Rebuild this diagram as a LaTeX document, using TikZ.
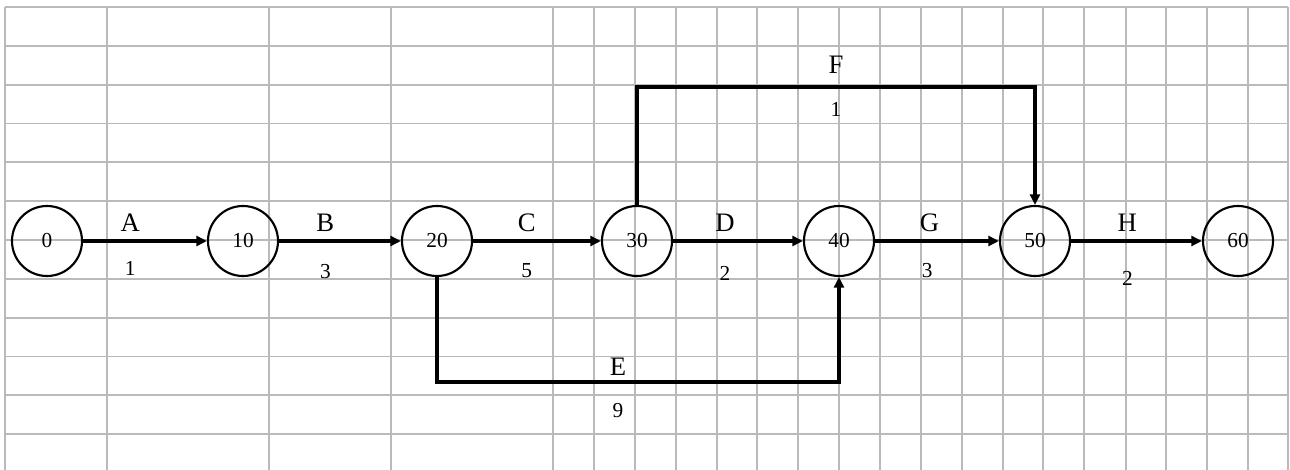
\documentclass[tikz,border=0pt]{standalone}
\usepackage{fontspec}
\setmainfont{Liberation Serif}
\usetikzlibrary{arrows.meta, positioning, calc}

\begin{document}
\begin{tikzpicture}[
    x=0.75pt, y=-0.75pt,
    event/.style={draw, circle, line width=1.6pt, minimum size=52.5pt, inner sep=0pt, font=\fontsize{16}{18}\selectfont},
    act/.style={-{Triangle[length=8pt, width=7.5pt]}, line width=2.4pt},
    lbl/.style={font=\fontsize{20}{22}\selectfont},
    dur/.style={font=\fontsize{16}{18}\selectfont},
    gridline/.style={black!27, line width=1.3pt}
]
\useasboundingbox (0,0) rectangle (1290,470);
\fill[white] (0,0) rectangle (1290,470);
\foreach \k in {0,...,11}
    \draw[gridline] (5,7+38.83*\k) -- (1288,7+38.83*\k);
\foreach \gx in {5,107,269,391,553,594,635,676,717,757,798,839,880,921,962,1003,1043,1084,1126,1166,1207,1248,1288}
    \draw[gridline] (\gx,7) -- (\gx,470);

\node[event] (e0) at (47,241) {0};
\node[event] (e10) at (243,241) {10};
\node[event] (e20) at (437,241) {20};
\node[event] (e30) at (637,241) {30};
\node[event] (e40) at (839,241) {40};
\node[event] (e50) at (1035,241) {50};
\node[event] (e60) at (1238,241) {60};
\coordinate (ftop) at (0,87);
\coordinate (ebot) at (0,382);

\draw[act] (e0) -- node[lbl, pos=0.38, above=2.5pt]{A} node[dur, pos=0.38, below=11pt]{1} (e10);
\draw[act] (e10) -- node[lbl, pos=0.38, above=2.5pt]{B} node[dur, pos=0.38, below=13pt]{3} (e20);
\draw[act] (e20) -- node[lbl, pos=0.42, above=2.5pt]{C} node[dur, pos=0.42, below=12.5pt]{5} (e30);
\draw[act] (e30) -- node[lbl, pos=0.4, above=2.5pt]{D} node[dur, pos=0.4, below=14.5pt]{2} (e40);
\draw[act] (e40) -- node[lbl, pos=0.44, above=2.5pt]{G} node[dur, pos=0.42, below=12.5pt]{3} (e50);
\draw[act] (e50) -- node[lbl, pos=0.43, above=2.5pt]{H} node[dur, pos=0.43, below=18pt]{2} (e60);
\draw[act] (e30) -- (e30 |- ftop) -- node[lbl, above=5.5pt]{F} node[dur, below=7.3pt]{1} (e50 |- ftop) -- (e50);
\draw[act] (e20) -- (e20 |- ebot) -- node[lbl, pos=0.45, above=0pt]{E} node[dur, pos=0.45, below=11.8pt]{9} (e40 |- ebot) -- (e40);
\end{tikzpicture}
\end{document}
